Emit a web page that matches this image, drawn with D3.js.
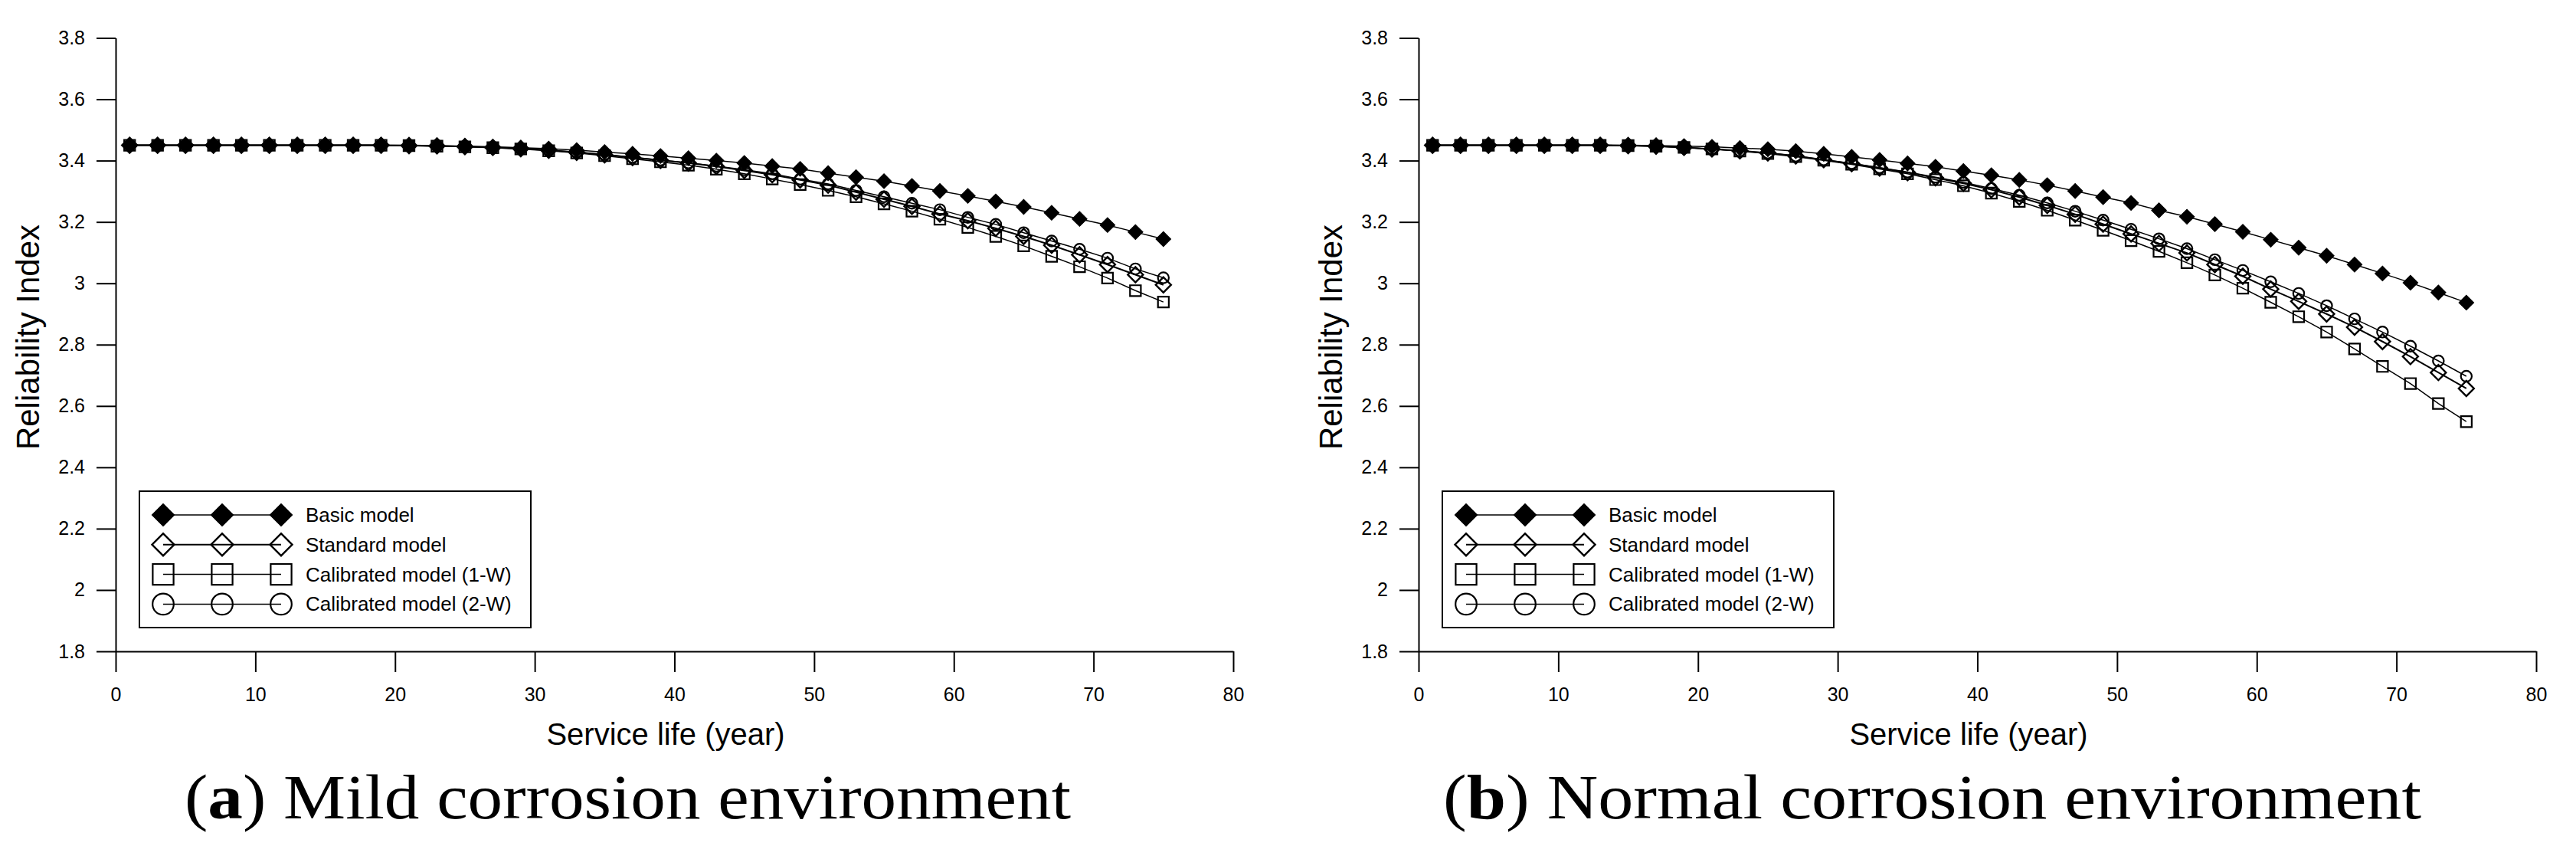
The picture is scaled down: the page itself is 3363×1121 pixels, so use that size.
<!DOCTYPE html>
<html>
<head>
<meta charset="utf-8">
<script src="https://cdn.jsdelivr.net/npm/d3@7"></script>
<style>
  body { margin: 0; background: #fff; }
  svg { display: block; background: #fff; }
</style>
</head>
<body>
<div id="viz-container"></div>
<script>
// service life (year), same for all series
let years = [1, 3, 5, 7, 9, 11, 13, 15, 17, 19, 21, 23, 25, 27, 29, 31, 33, 35, 37,
    39, 41, 43, 45, 47, 49, 51, 53, 55, 57, 59, 61, 63, 65, 67, 69, 71, 73, 75];

// (a) mild corrosion environment
let basicA = [3.450, 3.450, 3.450, 3.450, 3.450, 3.450, 3.450, 3.450, 3.450, 3.450, 3.450,
    3.449, 3.447, 3.445, 3.442, 3.439, 3.434, 3.428, 3.422, 3.415, 3.408, 3.400, 3.392,
    3.382, 3.373, 3.359, 3.346, 3.333, 3.317, 3.301, 3.285, 3.267, 3.249, 3.230, 3.210,
    3.190, 3.167, 3.144];
let standardA = [3.450, 3.450, 3.450, 3.450, 3.450, 3.450, 3.450, 3.450, 3.450, 3.450,
    3.449, 3.448, 3.446, 3.443, 3.439, 3.434, 3.427, 3.419, 3.410, 3.401, 3.392, 3.381,
    3.368, 3.354, 3.337, 3.320, 3.297, 3.274, 3.251, 3.226, 3.204, 3.179, 3.153, 3.124,
    3.093, 3.061, 3.028, 2.995];
let cal1A = [3.450, 3.450, 3.450, 3.450, 3.450, 3.450, 3.450, 3.450, 3.450, 3.450,
    3.449, 3.447, 3.445, 3.442, 3.438, 3.432, 3.425, 3.416, 3.406, 3.396, 3.385, 3.372,
    3.357, 3.340, 3.322, 3.303, 3.282, 3.259, 3.235, 3.209, 3.182, 3.153, 3.122, 3.088,
    3.054, 3.017, 2.976, 2.939];
let cal2A = [3.450, 3.450, 3.450, 3.450, 3.450, 3.450, 3.450, 3.450, 3.450, 3.450,
    3.449, 3.448, 3.446, 3.443, 3.439, 3.434, 3.428, 3.420, 3.411, 3.402, 3.393, 3.382,
    3.370, 3.357, 3.340, 3.324, 3.303, 3.282, 3.261, 3.240, 3.215, 3.192, 3.165, 3.138,
    3.111, 3.082, 3.047, 3.018];

// (b) normal corrosion environment
let basicB = [3.450, 3.450, 3.450, 3.450, 3.450, 3.450, 3.450, 3.450,
    3.449, 3.447, 3.445, 3.441, 3.437, 3.431, 3.422, 3.412, 3.402, 3.391, 3.380, 3.366,
    3.352, 3.337, 3.320, 3.301, 3.281, 3.262, 3.238, 3.217, 3.193, 3.168, 3.142, 3.116,
    3.090, 3.061, 3.032, 3.002, 2.970, 2.937];
let standardB = [3.450, 3.450, 3.450, 3.450, 3.450, 3.450, 3.450,
    3.449, 3.447, 3.443, 3.438, 3.432, 3.425, 3.415, 3.403, 3.390, 3.376, 3.361, 3.344,
    3.326, 3.305, 3.281, 3.254, 3.225, 3.193, 3.161, 3.130, 3.099, 3.061, 3.023, 2.981,
    2.941, 2.900, 2.857, 2.810, 2.761, 2.709, 2.657];
let cal1B = [3.450, 3.450, 3.450, 3.450, 3.450, 3.450, 3.450,
    3.449, 3.447, 3.443, 3.438, 3.431, 3.423, 3.413, 3.401, 3.388, 3.373, 3.357, 3.338,
    3.318, 3.294, 3.267, 3.238, 3.206, 3.173, 3.139, 3.104, 3.067, 3.027, 2.984, 2.938,
    2.891, 2.841, 2.786, 2.729, 2.673, 2.608, 2.549];
let cal2B = [3.450, 3.450, 3.450, 3.450, 3.450, 3.450, 3.450,
    3.449, 3.447, 3.443, 3.438, 3.432, 3.425, 3.415, 3.403, 3.391, 3.377, 3.363, 3.346,
    3.329, 3.309, 3.287, 3.262, 3.235, 3.206, 3.176, 3.145, 3.113, 3.077, 3.042, 3.005,
    2.967, 2.927, 2.884, 2.841, 2.795, 2.747, 2.697];

let seriesNames = ["Basic model", "Standard model", "Calibrated model (1-W)", "Calibrated model (2-W)"];
let xTicks = [0, 10, 20, 30, 40, 50, 60, 70, 80];
let yTicks = [1.8, 2, 2.2, 2.4, 2.6, 2.8, 3, 3.2, 3.4, 3.6, 3.8];
let yTickLabels = ["1.8", "2", "2.2", "2.4", "2.6", "2.8", "3", "3.2", "3.4", "3.6", "3.8"];
let xTitle = "Service life (year)";
let yTitle = "Reliability Index";

let W = 3363, H = 1121;
let viz = d3.select("#viz-container").append("svg")
    .attr("width", W)
    .attr("height", H);

let sans = "'Liberation Sans', Arial, sans-serif";

// marker styles: kind, size in plot, size in legend
let markers = [
    {kind: "diamond", fill: "black", size: 190, legendSize: 430, sw: 1, lw: 1.5},
    {kind: "diamond", fill: "none", size: 200, legendSize: 420, sw: 2.4, lw: 2},
    {kind: "square", fill: "none", size: 200, legendSize: 740, sw: 2.2, lw: 1.5},
    {kind: "circle", fill: "none", size: 160, legendSize: 600, sw: 2.2, lw: 1.5}
];

function symbolPath(m, size) {
    if (m.kind == "circle") return d3.symbol(d3.symbolCircle, size)();
    return d3.symbol(d3.symbolSquare, size)();
}

function drawMarker(g, m, size, cx, cy) {
    g.append("path")
        .attr("d", symbolPath(m, size))
        .attr("transform", "translate(" + cx + "," + cy + ")" + (m.kind == "diamond" ? " rotate(45)" : ""))
        .attr("fill", m.fill)
        .attr("stroke", "black")
        .attr("stroke-width", m.sw);
}

function drawPanel(x0, x80, allSeries, label, captionText, captionX, captionLen) {
    let g = viz.append("g");
    let xScale = d3.scaleLinear().domain([0, 80]).range([x0, x80]);
    let yScale = d3.scaleLinear().domain([1.8, 3.8]).range([850, 49.5]);

    // axes
    let xAxisGroup = g.append("g").attr("transform", "translate(0,850)");
    xAxisGroup.call(d3.axisBottom(xScale).tickValues(xTicks).tickSize(27).tickSizeOuter(0).tickPadding(20));
    let yAxisGroup = g.append("g").attr("transform", "translate(" + x0 + ",0)");
    yAxisGroup.call(d3.axisLeft(yScale).tickValues(yTicks)
        .tickFormat((d, i) => yTickLabels[i]).tickSize(25).tickSizeOuter(0).tickPadding(15));
    [xAxisGroup, yAxisGroup].forEach(function (ax) {
        ax.select(".domain").attr("stroke", "black").attr("stroke-width", 2);
        ax.selectAll(".tick line").attr("stroke", "black").attr("stroke-width", 2);
        ax.selectAll(".tick text").attr("font-family", sans).attr("font-size", 25).attr("fill", "black");
    });

    // series lines then markers
    let lineGenerator = d3.line()
        .x(d => xScale(d.year))
        .y(d => yScale(d.value));
    let order = [2, 3, 1, 0];
    order.forEach(function (si) {
        let data = years.map((yr, i) => ({year: yr, value: allSeries[si][i]}));
        g.append("path")
            .datum(data)
            .attr("fill", "none")
            .attr("stroke", "black")
            .attr("stroke-width", markers[si].lw)
            .attr("d", lineGenerator);
    });
    order.forEach(function (si) {
        let mg = g.append("g");
        years.forEach(function (yr, i) {
            drawMarker(mg, markers[si], markers[si].size, xScale(yr), yScale(allSeries[si][i]));
        });
    });

    // legend
    let lg = g.append("g");
    lg.append("rect")
        .attr("x", x0 + 31).attr("y", 641)
        .attr("width", 511).attr("height", 178)
        .attr("fill", "white").attr("stroke", "black").attr("stroke-width", 2);
    seriesNames.forEach(function (name, i) {
        let ry = 672 + i * 38.8;
        let sx = [x0 + 62, x0 + 139, x0 + 216];
        lg.append("line")
            .attr("x1", sx[0]).attr("x2", sx[2])
            .attr("y1", ry).attr("y2", ry)
            .attr("stroke", "black").attr("stroke-width", markers[i].lw);
        sx.forEach(function (cx) { drawMarker(lg, markers[i], markers[i].legendSize, cx, ry); });
        lg.append("text")
            .attr("x", x0 + 248).attr("y", ry + 9)
            .attr("font-family", sans).attr("font-size", 26)
            .text(name);
    });

    // axis titles
    g.append("text")
        .attr("x", x0 + 718).attr("y", 972)
        .attr("text-anchor", "middle")
        .attr("font-family", sans).attr("font-size", 40)
        .text(xTitle);
    g.append("text")
        .attr("transform", "translate(" + (x0 - 100) + ",440) rotate(-90)")
        .attr("text-anchor", "middle")
        .attr("font-family", sans).attr("font-size", 42)
        .text(yTitle);

    // caption
    let cap = g.append("text")
        .attr("x", captionX).attr("y", 1068)
        .attr("font-family", "'Liberation Serif', 'Times New Roman', serif")
        .attr("font-size", 82)
        .attr("textLength", captionLen)
        .attr("lengthAdjust", "spacingAndGlyphs");
    cap.append("tspan").text("(");
    cap.append("tspan").attr("font-weight", "bold").text(label);
    cap.append("tspan").text(") " + captionText);
}

drawPanel(151, 1610, [basicA, standardA, cal1A, cal2A], "a", "Mild corrosion environment", 241, 1157);
drawPanel(1852, 3311, [basicB, standardB, cal1B, cal2B], "b", "Normal corrosion environment", 1884, 1277);
</script>
</body>
</html>
